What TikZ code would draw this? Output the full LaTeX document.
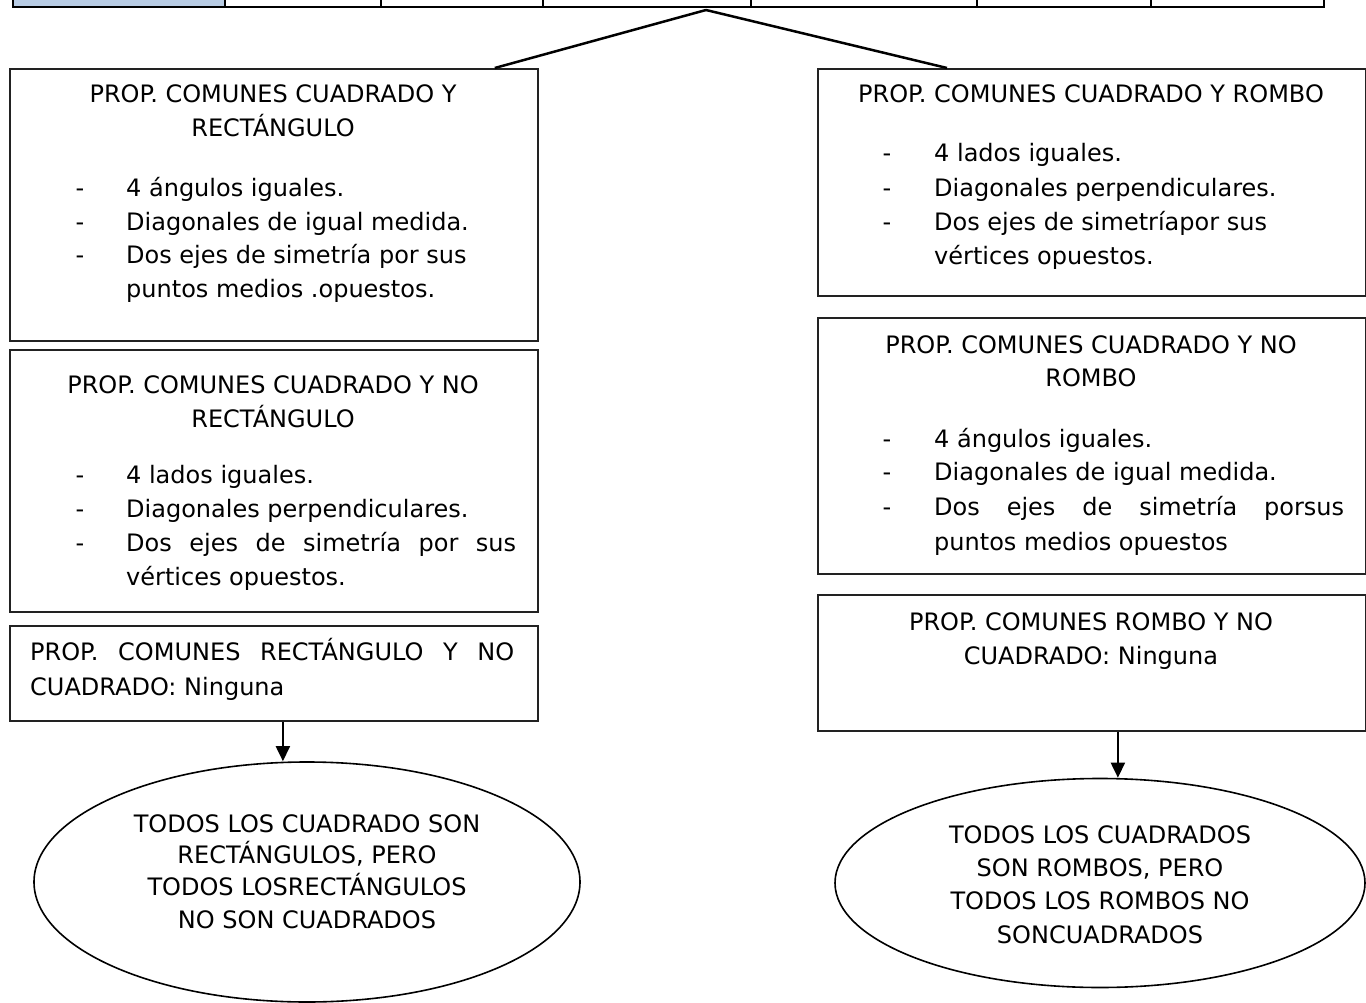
\documentclass[tikz,border=0pt]{standalone}
\usepackage{fontspec}
\setmainfont{DejaVu Sans}
\usetikzlibrary{shapes.geometric,arrows.meta}
\definecolor{cellblue}{HTML}{B8CCE4}
\definecolor{edge}{HTML}{222222}
\begin{document}
\begin{tikzpicture}[x=1pt,y=-1pt,
  every node/.style={font=\fontsize{24}{28}\selectfont},
  box/.style={draw=edge, line width=1.8pt, anchor=north west, inner sep=0},
  oval/.style={ellipse, draw=black, line width=1.6pt, inner sep=0},
  ctr/.style={inner sep=0, anchor=base},
  lft/.style={inner sep=0, anchor=base west},
  link/.style={line width=2.5pt},
  arr/.style={line width=2pt, -{Triangle[width=14pt,length=15pt]}}]
\clip (0,0) rectangle (1366,1003);

% table row at the top edge
\fill[cellblue] (13,-30) rectangle (225,7);
\foreach \xx in {225,381,543,751,977,1151}
  \draw[line width=1.6pt] (\xx,-30) -- (\xx,7);
\draw[line width=2.5pt] (13,-30) -- (13,7) -- (1324,7) -- (1324,-30);
\coordinate (apex) at (706,10);

% boxes
\node[box, minimum width=528pt, minimum height=272pt] (b1) at (9,68) {};
\node[box, minimum width=528pt, minimum height=262pt] (b2) at (9,349) {};
\node[box, minimum width=528pt, minimum height=95pt]  (b3) at (9,625) {};
\node[box, minimum width=548pt, minimum height=227pt] (r1) at (817,68) {};
\node[box, minimum width=548pt, minimum height=256pt] (r2) at (817,317) {};
\node[box, minimum width=548pt, minimum height=136pt] (r3) at (817,594) {};

% conclusions
\node[oval, minimum width=546pt, minimum height=240pt] (e1) at (307,882) {};
\node[oval, minimum width=530pt, minimum height=209pt] (e2) at (1100,883) {};

% connectors
\draw[link] (apex) -- ([xshift=-44pt]b1.north east);
\draw[link] (apex) -- ([xshift=130pt]r1.north west);
\draw[arr] ([xshift=9pt]b3.south) -- ([xshift=9pt]b3.south |- e1.north);
\draw[arr] ([xshift=26pt]r3.south) -- ([xshift=26pt]r3.south |- e2.north);

% left box 1
\node[ctr] (b1t1) at (273,103) {PROP. COMUNES CUADRADO Y};
\node[ctr] (b1t2) at (273,137) {RECTÁNGULO};
\foreach \yy in {197,231,264} \node[ctr] at (80,\yy) {-};
\node[lft] (b1i1) at (126,197) {4 ángulos iguales.};
\node[lft] (b1i2) at (126,231) {Diagonales de igual medida.};
\node[lft] (b1i3) at (126,264) {Dos ejes de simetría por sus};
\node[lft] (b1i4) at (126,298) {puntos medios .opuestos.};

% left box 2
\node[ctr] (b2t1) at (273,393) {PROP. COMUNES CUADRADO Y NO};
\node[ctr] (b2t2) at (273,427) {RECTÁNGULO};
\foreach \yy in {483,517,551} \node[ctr] at (80,\yy) {-};
\node[lft] (b2i1) at (126,483) {4 lados iguales.};
\node[lft] (b2i2) at (126,517) {Diagonales perpendiculares.};
\node[lft] (b2i3) at (126,551) {\makebox[390pt][s]{Dos ejes de simetría por sus}};
\node[lft] (b2i4) at (126,585) {vértices opuestos.};

% left box 3
\node[lft] (b3t1) at (30,660) {\makebox[484pt][s]{PROP. COMUNES RECTÁNGULO Y NO}};
\node[lft] (b3t2) at (30,695) {CUADRADO: Ninguna};

% right box 1
\node[ctr] (r1t1) at (1091,103) {PROP. COMUNES CUADRADO Y ROMBO};
\foreach \yy in {162,197,231} \node[ctr] at (887,\yy) {-};
\node[lft] (r1i1) at (934,162) {4 lados iguales.};
\node[lft] (r1i2) at (934,197) {Diagonales perpendiculares.};
\node[lft] (r1i3) at (934,231) {Dos ejes de simetríapor sus};
\node[lft] (r1i4) at (934,265) {vértices opuestos.};

% right box 2
\node[ctr] (r2t1) at (1091,353) {PROP. COMUNES CUADRADO Y NO};
\node[ctr] (r2t2) at (1091,386) {ROMBO};
\foreach \yy in {447,480,515} \node[ctr] at (887,\yy) {-};
\node[lft] (r2i1) at (934,447) {4 ángulos iguales.};
\node[lft] (r2i2) at (934,480) {Diagonales de igual medida.};
\node[lft] (r2i3) at (934,515) {\makebox[410pt][s]{Dos ejes de simetría porsus}};
\node[lft] (r2i4) at (934,550) {puntos medios opuestos};

% right box 3
\node[ctr] (r3t1) at (1091,630) {PROP. COMUNES ROMBO Y NO};
\node[ctr] (r3t2) at (1091,664) {CUADRADO: Ninguna};

% left conclusion text
\node[ctr] at (307,832) {TODOS LOS CUADRADO SON};
\node[ctr] at (307,863) {RECTÁNGULOS, PERO};
\node[ctr] at (307,895) {TODOS LOSRECTÁNGULOS};
\node[ctr] at (307,928) {NO SON CUADRADOS};

% right conclusion text
\node[ctr] at (1100,843) {TODOS LOS CUADRADOS};
\node[ctr] at (1100,876) {SON ROMBOS, PERO};
\node[ctr] at (1100,909) {TODOS LOS ROMBOS NO};
\node[ctr] at (1100,943) {SONCUADRADOS};
\end{tikzpicture}
\end{document}
